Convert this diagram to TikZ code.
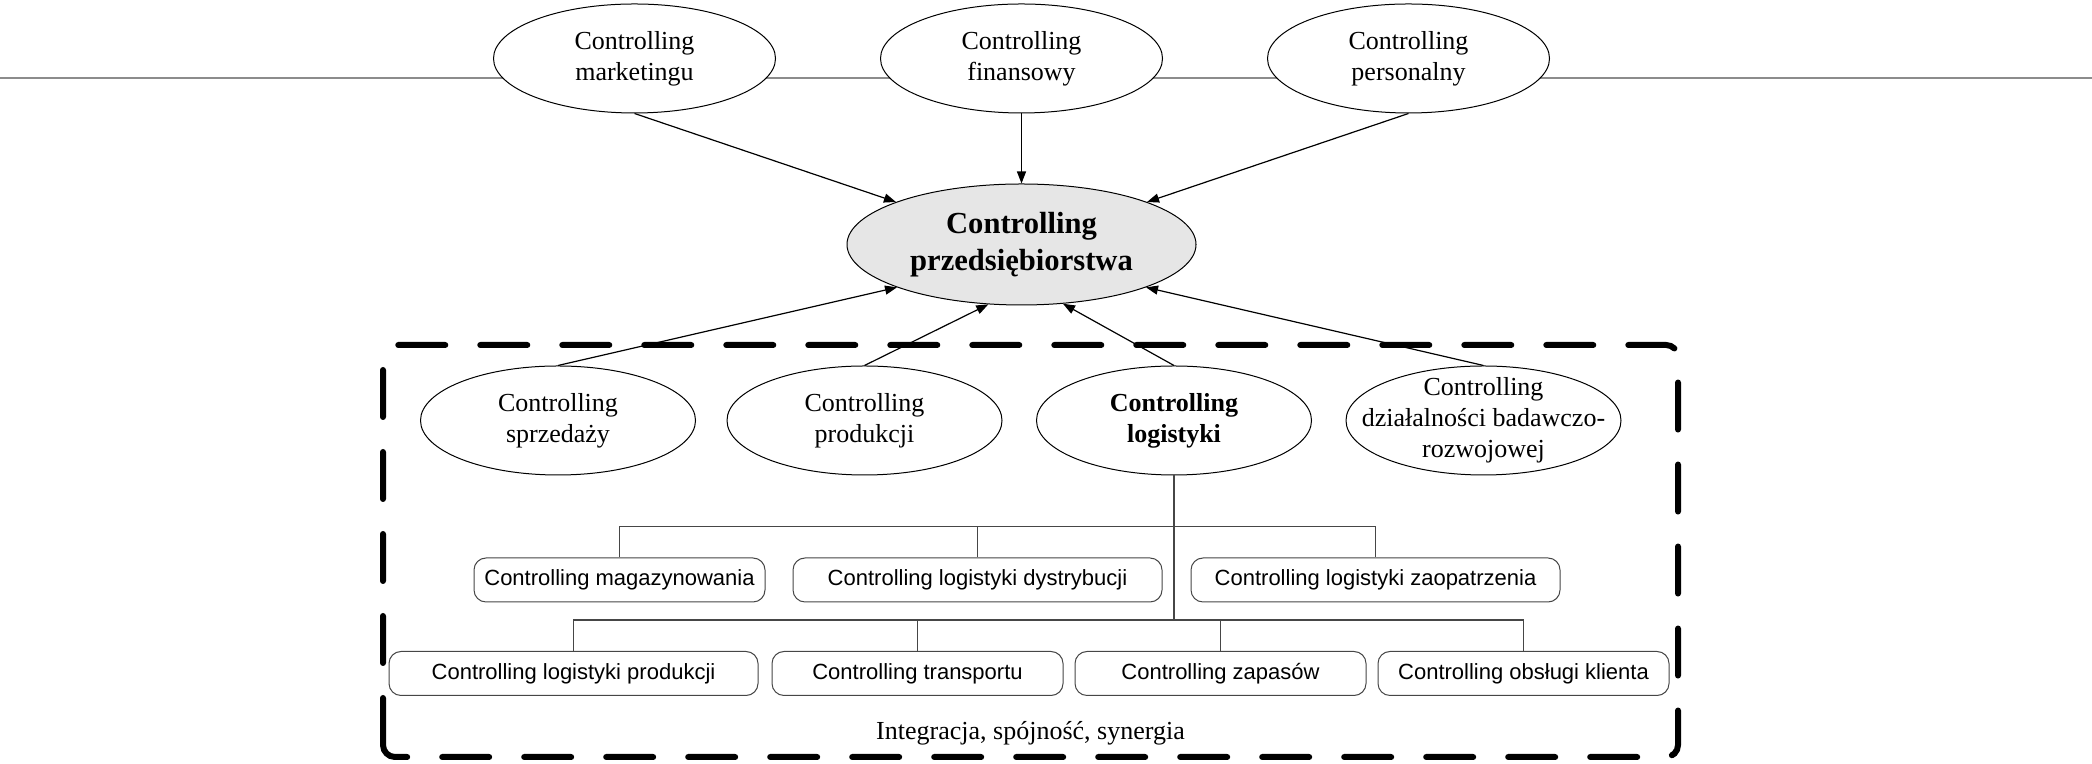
\documentclass[tikz,border=0pt]{standalone}
\usepackage{fontspec}
\setmainfont{Liberation Serif}
\setsansfont{Liberation Sans}
\usepackage{xcolor}
\usepackage{tikz}
\usetikzlibrary{positioning,arrows.meta,shapes.geometric}
\definecolor{cgline}{RGB}{140,140,140}
\definecolor{cgtree}{RGB}{70,70,70}
\definecolor{cgfill}{RGB}{230,230,230}
\tikzset{
  dept/.style={ellipse, draw, line width=0.5pt, fill=white, align=center,
               inner sep=0pt, minimum width=141pt, minimum height=54.5pt,
               font=\fontsize{13}{15.5}\selectfont},
  subdept/.style={dept, minimum width=137.5pt},
  core/.style={dept, fill=cgfill, minimum width=174.5pt, minimum height=60.5pt,
               font=\fontsize{15.3}{18.5}\selectfont\bfseries},
  task/.style={draw=cgtree, line width=0.5pt, rounded corners=6pt, fill=white,
               minimum height=22pt, inner xsep=4pt,
               font=\sffamily\fontsize{11}{13}\selectfont},
  shorttask/.style={task, minimum width=145.5pt},
  longtask/.style={task, minimum width=184.5pt},
  feed/.style={-{Triangle[length=6pt,width=4.5pt]}, line width=0.6pt},
  tie/.style={draw=cgtree, line width=0.55pt},
  frame/.style={line width=3pt, line cap=round, rounded corners=6pt,
                dash pattern=on 23.5pt off 17.5pt},
}

\begin{document}
\begin{tikzpicture}[x=0.5pt, y=0.5pt, node distance=52pt]
\useasboundingbox (0,0) rectangle (2092,764);
% grey rule behind the top row
\coordinate (rl) at (0,686);
\coordinate (rr) at (2092,686);
\draw[cgline, line width=0.7pt] (rl) -- (rr);

\node[dept] (fin) at (1021.5,705.5) {Controlling\\finansowy};
\node[dept, left=of fin] (mkt) {Controlling\\marketingu};
\node[dept, right=of fin] (per) {Controlling\\personalny};
\node[core] (ent) at (1021.5,519.5) {Controlling\\przedsiębiorstwa};

% dashed frame round the lower part
\draw[frame] (383,7) rectangle (1678,419);

\node[subdept] (sprz) at (558,343.5) {Controlling\\sprzedaży};
\node[subdept] (prod) at (864.5,343.5) {Controlling\\produkcji};
\node[subdept, font=\fontsize{13}{15.5}\selectfont\bfseries] (log) at (1174,343.5) {Controlling\\logistyki};
\node[subdept, inner xsep=-14pt, inner ysep=-3pt] (bad) at (1483.5,343.5) {Controlling\\działalności badawczo-\\rozwojowej};

\node[shorttask] (mag) at (619.5,184) {Controlling magazynowania};
\node[longtask, right=13.5pt of mag] (dys) {Controlling logistyki dystrybucji};
\node[longtask, right=14pt of dys] (zao) {Controlling logistyki zaopatrzenia};

\node[longtask] (lp) at (573.5,90.5) {Controlling logistyki produkcji};
\node[shorttask, right=6.5pt of lp] (tr) {Controlling transportu};
\node[shorttask, right=5.5pt of tr] (zap) {Controlling zapasów};
\node[shorttask, right=5.5pt of zap] (obs) {Controlling obsługi klienta};

\node[font=\fontsize{13}{15.5}\selectfont, anchor=base] (motto) at (1030.5,24) {Integracja, spójność, synergia};

\draw[feed] (mkt.south) -- (ent);
\draw[feed] (fin) -- (ent);
\draw[feed] (per.south) -- (ent);
\draw[feed] (sprz.north) -- (ent.199);
\draw[feed] (prod.north) -- (ent.241);
\draw[feed] (log.north) -- (ent.305);
\draw[feed] (bad.north) -- (ent.341);

% tree under logistics
\draw[tie] (mag.north) -- ++(0,31) -| (zao.north);
\draw[tie] (dys.north) -- ++(0,31);
\draw[tie] (lp.north) -- ++(0,31) coordinate (bus) -| (obs.north);
\draw[tie] (tr.north) -- ++(0,31);
\draw[tie] (zap.north) -- ++(0,31);
\draw[tie] (log.south) -- (log.south |- bus);
\end{tikzpicture}
\end{document}
